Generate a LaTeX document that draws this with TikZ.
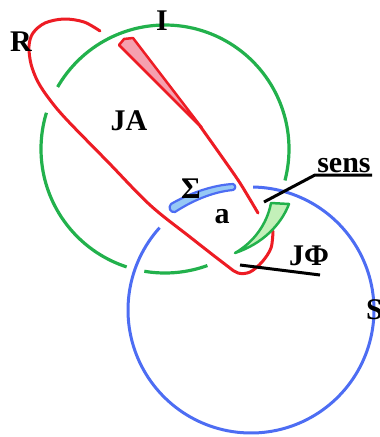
\documentclass[tikz,border=0pt]{standalone}
\usepackage{fontspec}
\setmainfont{Liberation Serif}
\definecolor{cgreen}{RGB}{34,177,76}
\definecolor{cred}{RGB}{237,28,36}
\definecolor{cblue}{RGB}{77,109,243}
\definecolor{fpink}{RGB}{245,160,175}
\definecolor{fgreen}{RGB}{195,240,185}
\definecolor{fblue}{RGB}{150,200,245}
\tikzset{
  lbl/.style={inner sep=0pt, font=\bfseries\fontsize{30}{36}\selectfont},
  gline/.style={cgreen, line width=3.2pt},
  bline/.style={cblue, line width=3pt},
  rline/.style={cred, line width=3pt, line cap=round, line join=round},
  kline/.style={black, line width=3pt},
}
\begin{document}
\begin{tikzpicture}[x=1pt,y=-1pt]
\useasboundingbox (0,0) rectangle (380,437);
% green circle (centre 165,149 r 124)
\draw[gline] plot[domain=108:197, samples=60] ({165+124*cos(\x)},{149+124*sin(\x)});
\draw[gline] plot[domain=210:374.7, samples=100] ({165+124*cos(\x)},{149+124*sin(\x)});
\draw[gline] plot[domain=70:99.6, samples=30] ({165+124*cos(\x)},{149+124*sin(\x)});
% blue circle (centre 251,310 r 123)
\draw[bline] plot[domain=-89:222, samples=150] ({251+123*cos(\x)},{310+123*sin(\x)});
% blue Sigma piece
\filldraw[cblue, fill=fblue, line width=2.2pt, line join=round]
  (233,184) .. controls (212,185) and (188,194) .. (171,204)
  .. controls (168,207) and (170,213) .. (175,212)
  .. controls (192,201) and (212,192) .. (233,190)
  .. controls (236,189) and (236,185) .. (233,184) -- cycle;
% red loop
\draw[rline] plot[smooth, tension=0.55] coordinates {(100,31) (84,22) (64,19) (45,23) (33,33) (29,46) (31,64) (38,82) (50,100) (67,120) (108,162) (150,205) (190,237) (226,265) (238,273) (250,272) (262,262) (271,248) (273,231)};
% red wedge and line
\filldraw[cred, fill=fpink, line width=2.5pt, line join=round]
  (119,45) -- (124,39) -- (133,38) -- (202,128) -- cycle;
\draw[rline] plot[smooth, tension=0.5] coordinates {(200,126) (222,157) (240,183) (258,213)};
% green horn
\filldraw[cgreen, fill=fgreen, line width=2.5pt, line join=round]
  (271,203) -- (289,204)
  .. controls (281,225) and (262,244) .. (235,253)
  .. controls (254,242) and (267,224) .. (271,203) -- cycle;
% labels
\node[lbl] (R) at (21,42) {R};
\node[lbl] (I) at (162,21) {I};
\node[lbl] (JA) at (129,121) {JA};
\node[lbl] (Sig) at (191,189) {Σ};
\node[lbl] (a) at (222,217) {a};
\node[lbl] (JP) at (309,256) {JΦ};
\node[lbl] (sens) at (344,166) {sens};
\node[lbl, anchor=west] (S) at (366,310) {S};
% leader lines
\coordinate (s1) at (264,202);
\coordinate (s2) at (315,175);
\coordinate (s3) at (372,175);
\coordinate (j1) at (240,265);
\coordinate (j2) at (320,275);
\draw[kline] (s1) -- (s2) -- (s3);
\draw[kline] (j1) -- (j2);
\end{tikzpicture}
\end{document}
